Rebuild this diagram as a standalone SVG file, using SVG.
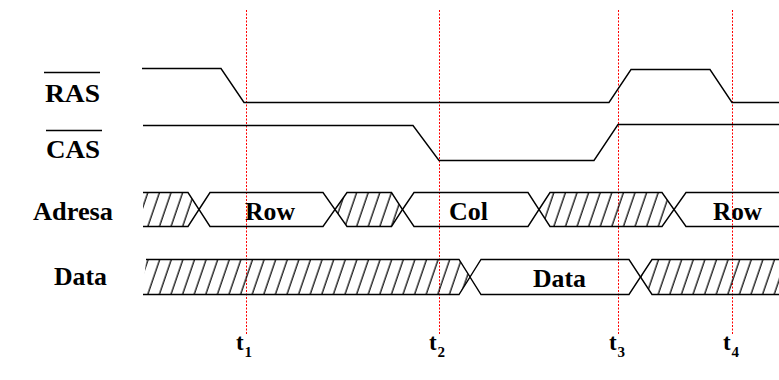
<svg xmlns="http://www.w3.org/2000/svg" width="779" height="380" viewBox="0 0 779 380">
  <style>
    .wave { fill: none; stroke: #000; stroke-width: 1.4; stroke-linejoin: miter; }
    .hatched { fill: url(#hatch); stroke: none; }
    .bar { stroke: #000; stroke-width: 1.4; }
    .lbl { font-family: "Liberation Serif", "Times New Roman", serif; font-weight: bold; font-size: 25px; fill: #000; }
    .tm { font-family: "Liberation Serif", "Times New Roman", serif; font-weight: bold; font-size: 23px; fill: #000; }
    .sub { font-family: "Liberation Serif", "Times New Roman", serif; font-weight: bold; font-size: 15px; fill: #000; }
    .mark { stroke: #ff0000; stroke-width: 1; stroke-dasharray: 2 1.5; fill: none; }
  </style>
  <defs>
    <!-- diagonal hatching used for the don't-care / invalid bus states -->
    <pattern id="hatch" patternUnits="userSpaceOnUse" width="11.6" height="10" patternTransform="skewX(-18.9)">
      <line x1="5" y1="0" x2="5" y2="10" stroke="#000" stroke-width="1.3"/>
    </pattern>
  </defs>

  <!-- time markers -->
  <g id="markers">
    <line class="mark" x1="246.5" y1="10" x2="246.5" y2="335"/>
    <line class="mark" x1="439.5" y1="10" x2="439.5" y2="335"/>
    <line class="mark" x1="618.5" y1="10" x2="618.5" y2="335"/>
    <line class="mark" x1="732.5" y1="10" x2="732.5" y2="335"/>
  </g>

  <!-- signal names -->
  <g id="label-ras">
    <line class="bar" x1="44" y1="72.5" x2="100" y2="72.5"/>
    <text class="lbl" x="45" y="101.5" textLength="55" lengthAdjust="spacingAndGlyphs">RAS</text>
  </g>
  <g id="label-cas">
    <line class="bar" x1="46" y1="130.5" x2="102" y2="130.5"/>
    <text class="lbl" x="46" y="158" textLength="54" lengthAdjust="spacingAndGlyphs">CAS</text>
  </g>
  <g id="label-adresa">
    <text class="lbl" x="33" y="220" textLength="80" lengthAdjust="spacingAndGlyphs">Adresa</text>
  </g>
  <g id="label-data">
    <text class="lbl" x="54" y="285" textLength="53" lengthAdjust="spacingAndGlyphs">Data</text>
  </g>

  <!-- RAS / CAS strobes -->
  <g id="ras">
    <path class="wave" d="M142,68.5 L221,68.5 L244,102.5 L609,102.5 L631,69.5 L710,69.5 L732,102.5 L779,102.5"/>
  </g>
  <g id="cas">
    <path class="wave" d="M143,125.5 L413,125.5 L439,160.5 L594,160.5 L618,124.5 L779,124.5"/>
  </g>

  <!-- address bus -->
  <g id="adresa">
    <path class="hatched" d="M143,192.5 L188,192.5 L199,209.5 L188,226.5 L143,226.5 Z"/>
    <path class="wave" d="M143,192.5 L188,192.5 L199,209.5 L188,226.5 L143,226.5"/>
    <path class="wave" d="M199,209.5 L210,192.5 L323,192.5 L335,209.5 L323,226.5 L210,226.5 Z"/>
    <text class="lbl" x="245" y="220" textLength="50" lengthAdjust="spacingAndGlyphs">Row</text>
    <path class="hatched" d="M335,209.5 L347,192.5 L391.5,192.5 L402.5,209.5 L391.5,226.5 L347,226.5 Z"/>
    <path class="wave" d="M335,209.5 L347,192.5 L391.5,192.5 L402.5,209.5 L391.5,226.5 L347,226.5 Z"/>
    <path class="wave" d="M402.5,209.5 L414,192.5 L528,192.5 L539,209.5 L528,226.5 L414,226.5 Z"/>
    <text class="lbl" x="449" y="220" textLength="39" lengthAdjust="spacingAndGlyphs">Col</text>
    <path class="hatched" d="M539,209.5 L550,192.5 L662,192.5 L674,209.5 L662,226.5 L550,226.5 Z"/>
    <path class="wave" d="M539,209.5 L550,192.5 L662,192.5 L674,209.5 L662,226.5 L550,226.5 Z"/>
    <path class="wave" d="M779,192.5 L686,192.5 L674,209.5 L686,226.5 L779,226.5"/>
    <text class="lbl" x="713" y="220" textLength="49" lengthAdjust="spacingAndGlyphs">Row</text>
  </g>

  <!-- data bus -->
  <g id="data">
    <path class="hatched" d="M146,259.5 L459,259.5 L470,277 L459,294.5 L143,294.5 Z"/>
    <path class="wave" d="M146,259.5 L459,259.5 L470,277 L459,294.5 L143,294.5"/>
    <path class="wave" d="M470,277 L481,259.5 L629,259.5 L640.5,277 L629,294.5 L481,294.5 Z"/>
    <text class="lbl" x="533" y="286.5" textLength="53" lengthAdjust="spacingAndGlyphs">Data</text>
    <path class="hatched" d="M779,259.5 L652,259.5 L640.5,277 L652,294.5 L779,294.5 Z"/>
    <path class="wave" d="M779,259.5 L652,259.5 L640.5,277 L652,294.5 L779,294.5"/>
  </g>

  <!-- marker names -->
  <g id="t1"><text class="tm" x="236" y="350">t</text><text class="sub" x="244.5" y="357">1</text></g>
  <g id="t2"><text class="tm" x="429" y="350">t</text><text class="sub" x="437.5" y="357">2</text></g>
  <g id="t3"><text class="tm" x="609" y="350">t</text><text class="sub" x="617.5" y="357">3</text></g>
  <g id="t4"><text class="tm" x="723" y="350">t</text><text class="sub" x="731.5" y="357">4</text></g>
</svg>
